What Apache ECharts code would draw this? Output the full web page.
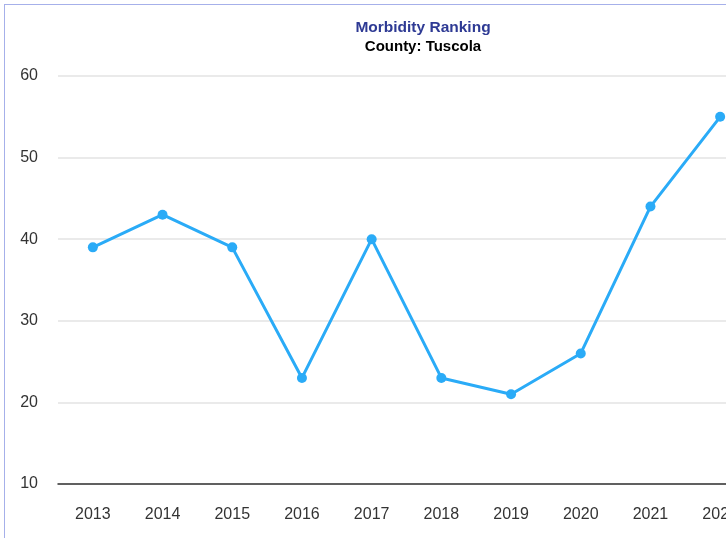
<!DOCTYPE html>
<html lang="en">
<head>
  <meta charset="UTF-8">
  <title>Morbidity Ranking</title>
  <script src="https://cdn.jsdelivr.net/npm/echarts@6/dist/echarts.min.js"></script>
  <style>
    html, body {
      margin: 0;
      padding: 0;
      background: #ffffff;
      overflow: hidden;
      width: 726px;
      height: 538px;
    }
    #chart {
      position: absolute;
      left: 4px;
      top: 4px;
      width: 836px;
      height: 560px;
      border-left: 1px solid #a6b0ea;
      border-top: 1px solid #a6b0ea;
    }
  </style>
</head>
<body>
  <div id="chart"></div>
  <script>
    // data
    var years = ['2013', '2014', '2015', '2016', '2017', '2018', '2019', '2020', '2021', '2022'];
    var ranking = [39, 43, 39, 23, 40, 23, 21, 26, 44, 55];

    var chart = echarts.init(document.getElementById('chart'));

    var option = {
      animation: false,
      textStyle: { fontFamily: 'Liberation Sans, Arial, sans-serif' },
      title: {
        text: 'Morbidity Ranking',
        subtext: 'County: Tuscola',
        left: 'center',
        top: 9,
        itemGap: 2,
        textStyle: { color: '#2e3a94', fontSize: 15.5, fontWeight: 'bold', lineHeight: 17 },
        subtextStyle: { color: '#000000', fontSize: 15, fontWeight: 'bold', lineHeight: 17 }
      },
      grid: {
        left: 53,
        top: 71,
        width: 697,
        height: 408
      },
      xAxis: {
        type: 'category',
        data: years,
        boundaryGap: true,
        axisLine: { lineStyle: { color: '#333333', width: 1.5 } },
        axisTick: { show: false },
        axisLabel: { color: '#333333', fontSize: 16, margin: 23 }
      },
      yAxis: {
        type: 'value',
        min: 10,
        max: 60,
        interval: 10,
        axisLine: { show: false },
        axisTick: { show: false },
        axisLabel: { color: '#333333', fontSize: 16, margin: 20 },
        splitLine: { lineStyle: { color: '#e3e3e3', width: 1.5 } }
      },
      series: [
        {
          name: 'Morbidity Ranking',
          type: 'line',
          data: ranking,
          symbol: 'circle',
          symbolSize: 10,
          color: '#2aabf7',
          lineStyle: { width: 3, color: '#2aabf7' },
          itemStyle: { color: '#2aabf7' }
        }
      ]
    };

    chart.setOption(option);
  </script>
</body>
</html>
